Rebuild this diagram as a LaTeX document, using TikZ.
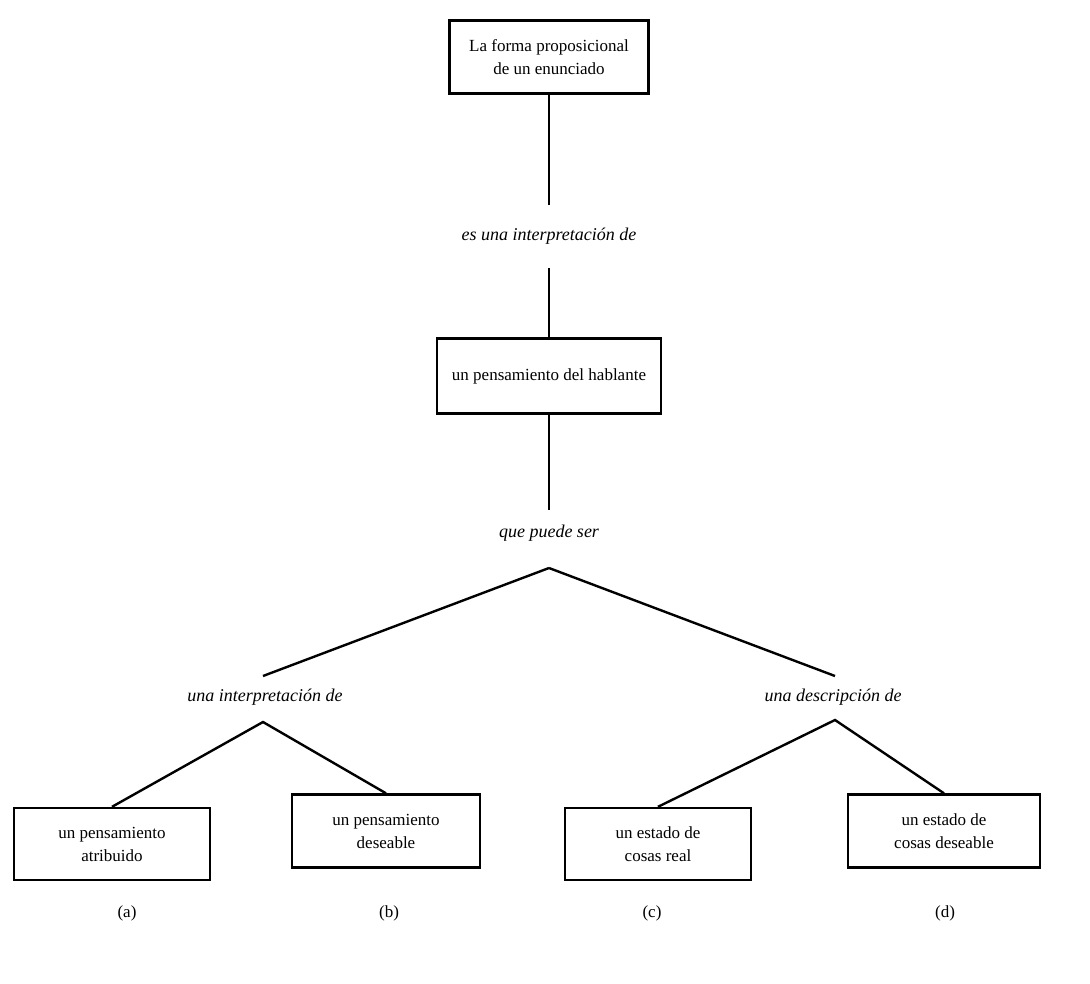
\documentclass[tikz,border=0pt]{standalone}
\usepackage{fontspec}
\setmainfont{Liberation Serif}
\begin{document}
\begin{tikzpicture}[x=1pt,y=-1pt,
  box/.style={draw,line width=2.4pt,align=center,inner sep=0pt,font=\fontsize{17}{23}\selectfont},
  lbl/.style={inner sep=0pt,font=\fontsize{18}{21}\selectfont\itshape},
  tag/.style={inner sep=0pt,font=\fontsize{17}{20}\selectfont},
  conn/.style={line width=2.4pt}]
\useasboundingbox (0,0) rectangle (1090,983);
% boxes
\node[box,minimum width=199pt,minimum height=73pt] (top) at (549,57) {La forma proposicional\\de un enunciado};
\node[box,minimum width=224pt,minimum height=75pt] (mid) at (549,376) {un pensamiento del hablante};
\node[box,minimum width=196pt,minimum height=72pt] (b1) at (112,844) {un pensamiento\\atribuido};
\node[box,minimum width=188pt,minimum height=73pt] (b2) at (386,831) {un pensamiento\\deseable};
\node[box,minimum width=186pt,minimum height=72pt] (b3) at (658,844) {un estado de\\cosas real};
\node[box,minimum width=192pt,minimum height=73pt] (b4) at (944,831) {un estado de\\cosas deseable};
% labels
\node[lbl,minimum height=63pt] (l1) at (549,236.5) {es una interpretación de};
\node[lbl,minimum height=46pt] (l2) at (549,533) {que puede ser};
\node[lbl] (l3) at (265,697) {una interpretación de};
\node[lbl] (l4) at (833,697) {una descripción de};
\node[tag] (ta) at (127,913) {(a)};
\node[tag] (tb) at (389,913) {(b)};
\node[tag] (tc) at (652,913) {(c)};
\node[tag] (td) at (945,913) {(d)};
% connector points
\coordinate (apex) at (549,568);
\coordinate (lend) at (263,676);
\coordinate (rend) at (835,676);
\coordinate (lsub) at (263,722);
\coordinate (rsub) at (835,720);
% connectors
\draw[conn] (top) -- (l1);
\draw[conn] (l1) -- (mid);
\draw[conn] (mid) -- (l2);
\draw[conn] (apex) -- (lend);
\draw[conn] (apex) -- (rend);
\draw[conn] (b1.north) -- (lsub) -- (b2.north);
\draw[conn] (b3.north) -- (rsub) -- (b4.north);
\end{tikzpicture}
\end{document}
